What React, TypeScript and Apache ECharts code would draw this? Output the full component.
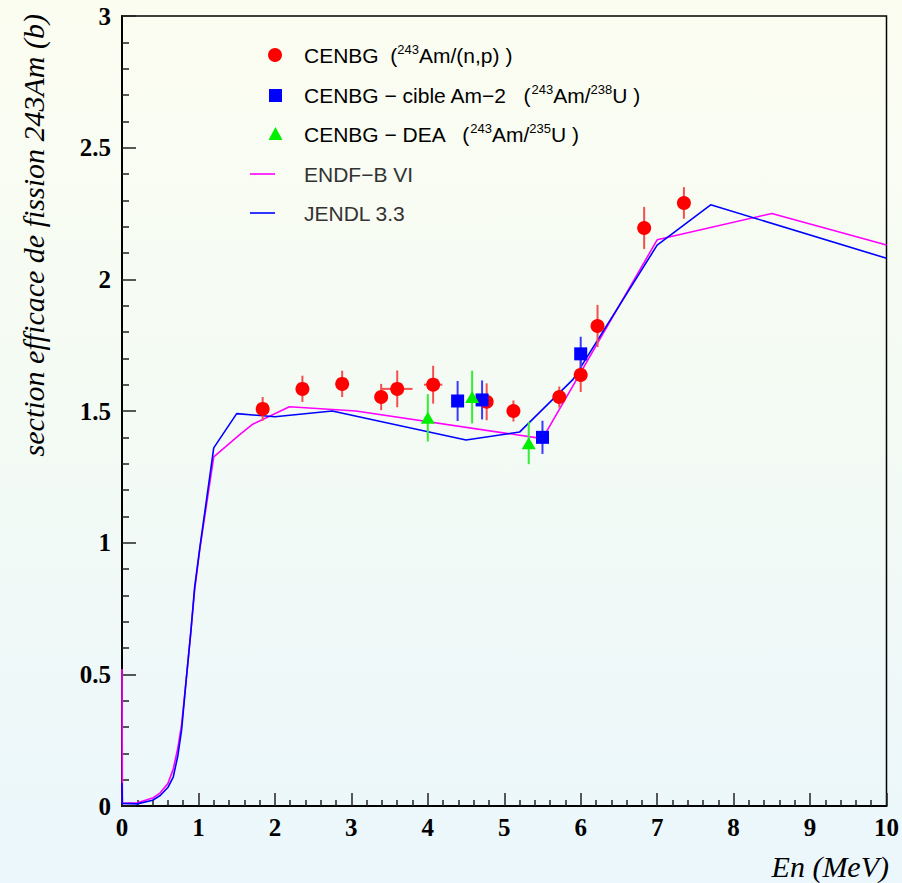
import React, { useEffect, useRef } from "react";
import * as echarts from "echarts";

// CENBG 243Am/(n,p): energy, cross-section, y error, x error
const npX = [1.84, 2.36, 2.88, 3.39, 3.60, 4.07, 4.77, 5.12, 5.72, 6.00, 6.22, 6.83, 7.35];
const npY = [1.508, 1.584, 1.603, 1.553, 1.584, 1.600, 1.535, 1.500, 1.553, 1.637, 1.823, 2.195, 2.290];
const npErr = [0.045, 0.05, 0.05, 0.05, 0.07, 0.072, 0.07, 0.04, 0.04, 0.065, 0.08, 0.08, 0.06];
const npXErr = [0.08, 0, 0, 0, 0.2, 0.12, 0, 0, 0, 0, 0, 0, 0];

// CENBG - cible Am-2 (243Am/238U)
const amX = [4.39, 4.71, 5.50, 6.00];
const amY = [1.538, 1.542, 1.400, 1.717];
const amErr = [0.076, 0.074, 0.063, 0.065];

// CENBG - DEA (243Am/235U)
const deaX = [4.00, 4.58, 5.32];
const deaY = [1.474, 1.553, 1.378];
const deaErr = [0.09, 0.1, 0.08];

// ENDF-B VI evaluation
const endfX = [0, 0.005, 0.2, 0.4, 0.5, 0.6, 0.67, 0.73, 0.78, 0.84, 0.9, 0.95, 1.02, 1.2, 1.54, 1.71, 2.19, 3.06, 5.5, 7.0, 8.5, 10];
const endfY = [0.52, 0.01, 0.012, 0.03, 0.05, 0.085, 0.14, 0.22, 0.31, 0.48, 0.66, 0.82, 0.98, 1.326, 1.41, 1.45, 1.516, 1.50, 1.395, 2.15, 2.25, 2.13];

// JENDL 3.3 evaluation
const jendlX = [0, 0.005, 0.2, 0.4, 0.5, 0.6, 0.67, 0.73, 0.78, 0.84, 0.9, 0.95, 1.02, 1.2, 1.5, 2.0, 2.75, 4.5, 5.2, 5.9, 7.0, 7.7, 10];
const jendlY = [0.087, 0.01, 0.008, 0.022, 0.04, 0.07, 0.11, 0.19, 0.29, 0.48, 0.66, 0.83, 0.985, 1.36, 1.49, 1.478, 1.50, 1.39, 1.42, 1.62, 2.13, 2.283, 2.08];

const RED = "#ff0000";
const BLUE = "#0000ff";
const GREEN = "#00ee00";
const MAGENTA = "#ff00ff";
const TICK = "#222222";

function errorBarSeries(name: string, xs: number[], ys: number[], es: number[], xes: number[] | null, color: string) {
  return {
    type: "custom",
    name: name + " err",
    z: 3,
    silent: true,
    data: xs.map((x, i) => [x, ys[i], es[i], xes ? xes[i] : 0]),
    renderItem: (params: any, api: any) => {
      const x = api.value(0);
      const y = api.value(1);
      const e = api.value(2);
      const xe = api.value(3);
      const p1 = api.coord([x, y + e]);
      const p2 = api.coord([x, y - e]);
      const children: any[] = [
        { type: "line", shape: { x1: p1[0], y1: p1[1], x2: p2[0], y2: p2[1] }, style: { stroke: color, lineWidth: 2 } },
      ];
      if (xe > 0) {
        const q1 = api.coord([x - xe, y]);
        const q2 = api.coord([x + xe, y]);
        children.push({ type: "line", shape: { x1: q1[0], y1: q1[1], x2: q2[0], y2: q2[1] }, style: { stroke: color, lineWidth: 2 } });
      }
      return { type: "group", children };
    },
  };
}

const legendFont = "'Liberation Sans', Arial, sans-serif";
const rich = {
  n: { fontSize: 21, fontFamily: legendFont, color: "#333", lineHeight: 25 },
  s: { fontSize: 13, fontFamily: legendFont, color: "#333", lineHeight: 14, verticalAlign: "top" },
};

export default function App() {
  const ref = useRef<HTMLDivElement>(null);
  useEffect(() => {
    if (!ref.current) return;
    const chart = echarts.init(ref.current, null, { renderer: "svg" });
    const axisLabel = { fontFamily: "'Liberation Serif', 'Times New Roman', serif", fontWeight: "bold", fontSize: 25, color: "#000" };
    chart.setOption({
      animation: false,
      backgroundColor: new echarts.graphic.LinearGradient(0, 0, 0, 1, [
        { offset: 0, color: "#fcfdf1" },
        { offset: 0.45, color: "#f4fbf4" },
        { offset: 1, color: "#ebf7fc" },
      ]),
      grid: { left: 122, top: 16, right: 13, bottom: 77, show: true, borderColor: "#000", borderWidth: 1.5 },
      xAxis: {
        type: "value",
        min: 0,
        max: 10,
        interval: 1,
        axisLine: { show: true, lineStyle: { color: "#000", width: 2 } },
        axisTick: { show: true, inside: true, length: 13, lineStyle: { color: TICK, width: 1.5 } },
        minorTick: { show: true, splitNumber: 5, length: 6, lineStyle: { color: TICK, width: 1.5 } },
        splitLine: { show: false },
        axisLabel: { ...axisLabel, margin: 9 },
      },
      yAxis: {
        type: "value",
        min: 0,
        max: 3,
        interval: 0.5,
        axisLine: { show: true, lineStyle: { color: "#000", width: 2 } },
        axisTick: { show: true, inside: true, length: 14, lineStyle: { color: TICK, width: 1.5 } },
        minorTick: { show: true, splitNumber: 5, length: 7, lineStyle: { color: TICK, width: 1.5 } },
        splitLine: { show: false },
        axisLabel: { ...axisLabel, margin: 11 },
      },
      series: [
        {
          type: "line",
          name: "ENDF-B VI",
          data: endfX.map((x, i) => [x, endfY[i]]),
          showSymbol: false,
          symbol: "none",
          lineStyle: { color: MAGENTA, width: 1.6 },
          z: 2,
        },
        {
          type: "line",
          name: "JENDL 3.3",
          data: jendlX.map((x, i) => [x, jendlY[i]]),
          showSymbol: false,
          symbol: "none",
          lineStyle: { color: BLUE, width: 1.6 },
          z: 2,
        },
        errorBarSeries("np", npX, npY, npErr, npXErr, "#f25050"),
        errorBarSeries("am", amX, amY, amErr, null, "#3a3aff"),
        errorBarSeries("dea", deaX, deaY, deaErr, null, "#33ee33"),
        {
          type: "scatter",
          name: "CENBG (243Am/(n,p))",
          data: npX.map((x, i) => [x, npY[i]]),
          symbol: "circle",
          symbolSize: 14,
          itemStyle: { color: RED, opacity: 1 },
          z: 4,
        },
        {
          type: "scatter",
          name: "CENBG - cible Am-2 (243Am/238U)",
          data: amX.map((x, i) => [x, amY[i]]),
          symbol: "rect",
          symbolSize: 13,
          itemStyle: { color: BLUE, opacity: 1 },
          z: 4,
        },
        {
          type: "scatter",
          name: "CENBG - DEA (243Am/235U)",
          data: deaX.map((x, i) => [x, deaY[i]]),
          symbol: "triangle",
          symbolSize: [14, 12],
          itemStyle: { color: GREEN, opacity: 1 },
          z: 4,
        },
      ],
      graphic: [
        { type: "circle", shape: { cx: 275, cy: 55, r: 7 }, style: { fill: RED } },
        { type: "text", x: 304, y: 55, style: { text: "{n|CENBG  (}{s|243}{n|Am/(n,p) )}", rich, verticalAlign: "middle" } },
        { type: "rect", shape: { x: 269, y: 89, width: 13, height: 13 }, style: { fill: BLUE } },
        { type: "text", x: 304, y: 95, style: { text: "{n|CENBG − cible Am−2   (}{s|243}{n|Am/}{s|238}{n|U )}", rich, verticalAlign: "middle" } },
        { type: "polygon", shape: { points: [[275.5, 127], [268.5, 140], [282.5, 140]] }, style: { fill: GREEN } },
        { type: "text", x: 304, y: 134, style: { text: "{n|CENBG − DEA   (}{s|243}{n|Am/}{s|235}{n|U )}", rich, verticalAlign: "middle" } },
        { type: "line", shape: { x1: 250, y1: 174, x2: 275, y2: 174 }, style: { stroke: MAGENTA, lineWidth: 1.6 } },
        { type: "text", x: 304, y: 174, style: { text: "ENDF−B VI", font: "21px " + legendFont, fill: "#333", verticalAlign: "middle" } },
        { type: "line", shape: { x1: 250, y1: 213, x2: 275, y2: 213 }, style: { stroke: BLUE, lineWidth: 1.6 } },
        { type: "text", x: 304, y: 213, style: { text: "JENDL 3.3", font: "21px " + legendFont, fill: "#333", verticalAlign: "middle" } },
        {
          type: "text",
          x: 33,
          y: 14,
          rotation: Math.PI / 2,
          style: {
            text: "section efficace de fission 243Am (b)",
            font: "italic 30px 'Liberation Serif', 'Times New Roman', serif",
            fill: "#000",
            align: "right",
            verticalAlign: "middle",
          },
        },
        {
          type: "text",
          x: 889,
          y: 866,
          style: {
            text: "En (MeV)",
            font: "italic 30px 'Liberation Serif', 'Times New Roman', serif",
            fill: "#000",
            align: "right",
            verticalAlign: "middle",
          },
        },
      ],
    });
    return () => chart.dispose();
  }, []);
  return (
    <div style={{ position: "absolute", left: 0, top: 0, width: 902, height: 883 }}>
      <div ref={ref} style={{ width: 902, height: 883 }} />
    </div>
  );
}
